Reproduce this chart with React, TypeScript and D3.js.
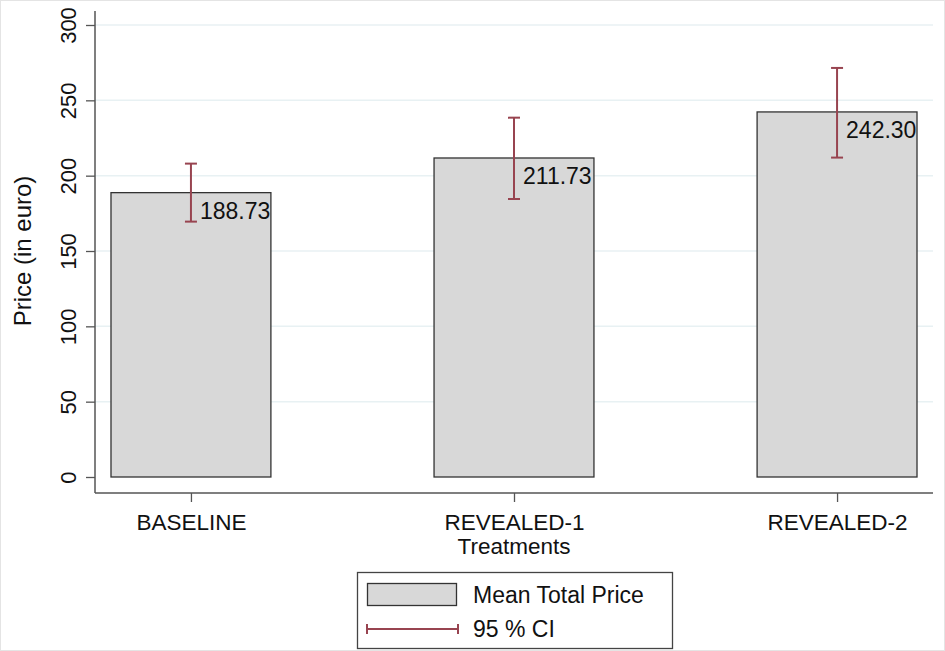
import React, { useEffect, useRef } from 'react';
import * as d3 from 'd3';

const categories = ['BASELINE', 'REVEALED-1', 'REVEALED-2'];
const means = [188.73, 211.73, 242.3];
const ciLow = [169.5, 184.5, 212];
const ciHigh = [208, 238.5, 271.5];
const yTicks = [0, 50, 100, 150, 200, 250, 300];

const W = 945;
const H = 651;
const FONT = '"Liberation Sans", Arial, sans-serif';
const CI_COLOR = '#984450';

export default function App() {
  const svgRef = useRef<SVGSVGElement>(null);

  useEffect(() => {
    if (!svgRef.current) return;
    const svg = d3.select(svgRef.current);
    svg.selectAll('*').remove();

    const left = 95;
    const right = 933;
    const axisY = 493;

    const y = d3.scaleLinear().domain([0, 300]).range([477, 25]);
    const x = d3.scalePoint<string>().domain(categories).range([left, right]).padding(0.297);
    const barW = x.step() * 0.495;

    svg.append('rect')
      .attr('x', 0.5).attr('y', 0.5).attr('width', W - 1).attr('height', H - 1)
      .attr('fill', 'white').attr('stroke', '#e4e4e4');

    // grid
    svg.append('g').selectAll('line').data(yTicks.filter(t => t > 0)).join('line')
      .attr('x1', left).attr('x2', right)
      .attr('y1', d => y(d)).attr('y2', d => y(d))
      .attr('stroke', '#e8f1f3').attr('stroke-width', 1.5);

    // y axis
    const ya = svg.append('g').attr('transform', `translate(${left},0)`)
      .call(d3.axisLeft(y).tickValues(yTicks).tickSize(9).tickPadding(8));
    ya.select('.domain').remove();
    ya.selectAll('.tick line').attr('stroke', '#555').attr('stroke-width', 1.3);
    ya.selectAll('.tick text')
      .attr('font-family', FONT).attr('font-size', 22).attr('fill', '#111')
      .attr('text-anchor', 'middle')
      .attr('x', 0).attr('dy', 0)
      .attr('transform', 'translate(-25,0) rotate(-90)')
      .attr('dominant-baseline', 'middle');
    svg.append('line').attr('x1', left).attr('x2', left).attr('y1', 11).attr('y2', axisY)
      .attr('stroke', '#555').attr('stroke-width', 1.5);

    // x axis
    const xa = svg.append('g').attr('transform', `translate(0,${axisY})`)
      .call(d3.axisBottom(x).tickSize(9).tickPadding(0));
    xa.select('.domain').remove();
    xa.selectAll('.tick line').attr('stroke', '#555').attr('stroke-width', 1.3);
    xa.selectAll('.tick text')
      .attr('font-family', FONT).attr('font-size', 22.5).attr('fill', '#111')
      .attr('y', 529.5 - axisY).attr('dy', 0);
    svg.append('line').attr('x1', left).attr('x2', right).attr('y1', axisY).attr('y2', axisY)
      .attr('stroke', '#555').attr('stroke-width', 1.5);

    // bars
    svg.append('g').selectAll('rect').data(categories).join('rect')
      .attr('x', d => x(d)! - barW / 2)
      .attr('y', (d, i) => y(means[i]))
      .attr('width', barW)
      .attr('height', (d, i) => y(0) - y(means[i]))
      .attr('fill', '#d8d8d8').attr('stroke', '#333').attr('stroke-width', 1.3);

    // CI
    const ci = svg.append('g').attr('stroke', CI_COLOR).attr('stroke-width', 2);
    categories.forEach((c, i) => {
      const cx = x(c)!;
      ci.append('line').attr('x1', cx).attr('x2', cx).attr('y1', y(ciLow[i])).attr('y2', y(ciHigh[i]));
      ci.append('line').attr('x1', cx - 6).attr('x2', cx + 6).attr('y1', y(ciLow[i])).attr('y2', y(ciLow[i]));
      ci.append('line').attr('x1', cx - 6).attr('x2', cx + 6).attr('y1', y(ciHigh[i])).attr('y2', y(ciHigh[i]));
    });

    // value labels
    svg.append('g').selectAll('text').data(categories).join('text')
      .attr('x', d => x(d)! + 9)
      .attr('y', (d, i) => y(means[i]) + 26)
      .attr('font-family', FONT).attr('font-size', 23).attr('fill', '#111')
      .text((d, i) => means[i].toFixed(2));

    // titles
    svg.append('text')
      .attr('transform', `translate(31,${(y(0) + y(300)) / 2}) rotate(-90)`)
      .attr('text-anchor', 'middle')
      .attr('font-family', FONT).attr('font-size', 24).attr('fill', '#111')
      .text('Price (in euro)');
    svg.append('text')
      .attr('x', x('REVEALED-1')!).attr('y', 554)
      .attr('text-anchor', 'middle')
      .attr('font-family', FONT).attr('font-size', 22.5).attr('fill', '#111')
      .text('Treatments');

    // legend
    const lg = svg.append('g');
    lg.append('rect').attr('x', 357.5).attr('y', 572.5).attr('width', 315).attr('height', 76)
      .attr('fill', 'white').attr('stroke', '#444').attr('stroke-width', 1.3);
    lg.append('rect').attr('x', 367.5).attr('y', 583.5).attr('width', 89).attr('height', 22)
      .attr('fill', '#d8d8d8').attr('stroke', '#333').attr('stroke-width', 1.3);
    lg.append('text').attr('x', 473).attr('y', 603)
      .attr('font-family', FONT).attr('font-size', 23).attr('fill', '#111').text('Mean Total Price');
    const lc = lg.append('g').attr('stroke', CI_COLOR).attr('stroke-width', 2);
    lc.append('line').attr('x1', 367).attr('x2', 458).attr('y1', 629).attr('y2', 629);
    lc.append('line').attr('x1', 367).attr('x2', 367).attr('y1', 624).attr('y2', 634);
    lc.append('line').attr('x1', 458).attr('x2', 458).attr('y1', 624).attr('y2', 634);
    lg.append('text').attr('x', 473).attr('y', 637)
      .attr('font-family', FONT).attr('font-size', 23).attr('fill', '#111').text('95 % CI');
  }, []);

  return (
    <div style={{ position: 'absolute', left: 0, top: 0 }}>
      <svg ref={svgRef} width={W} height={H} style={{ display: 'block' }} />
    </div>
  );
}
